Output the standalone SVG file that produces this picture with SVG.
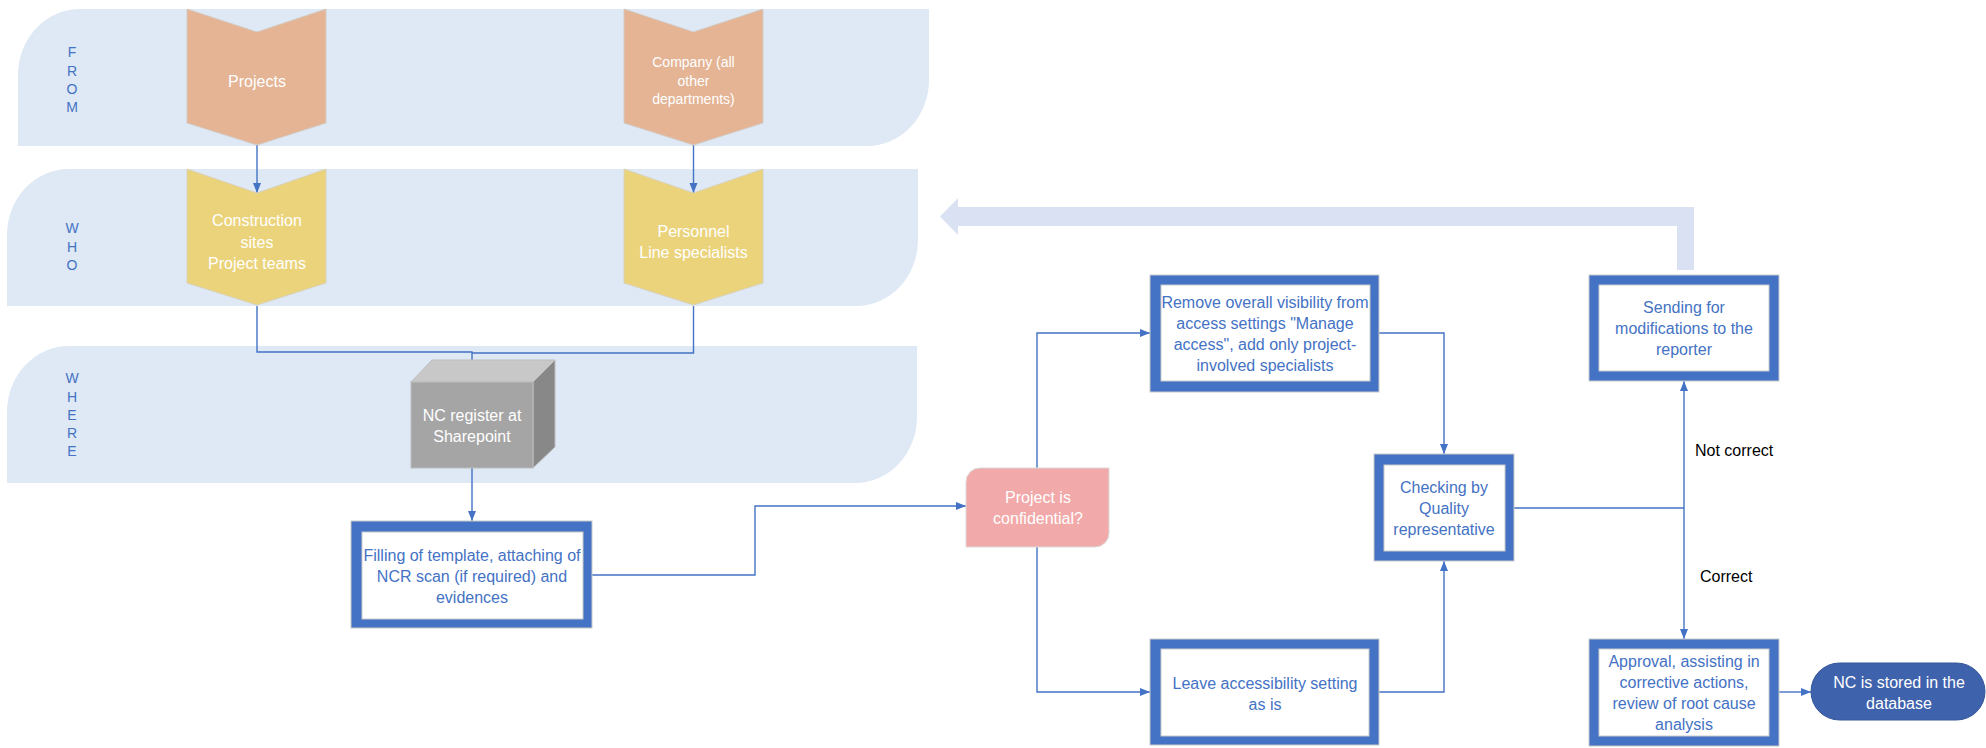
<svg xmlns="http://www.w3.org/2000/svg" width="1986" height="748" viewBox="0 0 1986 748">
<style>
text{font-family:"Liberation Sans",Arial,sans-serif;text-anchor:middle}
.lane{fill:#DEE9F5}
.ll{fill:#4472C4;font-size:14px}
.chev-o{fill:#E4B495;stroke:#D4CBC4;stroke-width:1}
.chev-y{fill:#EBD37B;stroke:#D8D2BC;stroke-width:1}
.wt{fill:#fff;font-size:16px}
.wt14{fill:#fff;font-size:14px}
.bt{fill:#4472C4;font-size:16px}
.box-o{fill:#4472C4;stroke:#C9C9C9;stroke-width:1}
.box-i{fill:#fff;stroke:#C9C9C9;stroke-width:1}
.con{fill:none;stroke:#4472C4;stroke-width:1.4}
.lbl{fill:#000;font-size:16px;text-anchor:start}
</style>
<defs>
<marker id="ah" markerUnits="userSpaceOnUse" markerWidth="10" markerHeight="10" viewBox="0 0 10 10" refX="10" refY="5" orient="auto">
<path d="M0,1 L10,5 L0,9 Z" fill="#4472C4"/>
</marker>
</defs>

<g id="lanes">
<path id="lane-from" class="lane" d="M80 9 H929 V80 A62 66 0 0 1 867 146 H18 V75 A62 66 0 0 1 80 9 Z"/>
<path id="lane-who" class="lane" d="M69 169 H918 V240 A62 66 0 0 1 856 306 H7 V235 A62 66 0 0 1 69 169 Z"/>
<path id="lane-where" class="lane" d="M69 346 H917 V417 A62 66 0 0 1 855 483 H7 V412 A62 66 0 0 1 69 346 Z"/>
<text class="ll" x="72" y="57">F</text>
<text class="ll" x="72" y="76">R</text>
<text class="ll" x="72" y="94">O</text>
<text class="ll" x="72" y="112">M</text>
<text class="ll" x="72" y="233">W</text>
<text class="ll" x="72" y="252">H</text>
<text class="ll" x="72" y="270">O</text>
<text class="ll" x="72" y="383">W</text>
<text class="ll" x="72" y="402">H</text>
<text class="ll" x="72" y="420">E</text>
<text class="ll" x="72" y="438">R</text>
<text class="ll" x="72" y="456">E</text>
</g>

<g id="feedback-arrow">
<path d="M940 216.5 L958 198 V207 H1694 V270 H1677 V226 H958 V235 Z" fill="#DAE1F3"/>
</g>

<g id="connectors">
<path class="con" d="M257 145 V193" marker-end="url(#ah)"/>
<path class="con" d="M693.5 145 V193" marker-end="url(#ah)"/>
<path class="con" d="M257 306 V352 H472 V382" marker-end="url(#ah)"/>
<path class="con" d="M693.5 306 V353 H472"/>
<path class="con" d="M472 468 V521" marker-end="url(#ah)"/>
<path class="con" d="M592 575 H755 V506 H966" marker-end="url(#ah)"/>
<path class="con" d="M1037 468 V333 H1150" marker-end="url(#ah)"/>
<path class="con" d="M1037 547 V692 H1150" marker-end="url(#ah)"/>
<path class="con" d="M1379 333 H1444 V454" marker-end="url(#ah)"/>
<path class="con" d="M1379 692 H1444 V561" marker-end="url(#ah)"/>
<path class="con" d="M1514 508 H1684"/>
<path class="con" d="M1684 508 V381" marker-end="url(#ah)"/>
<path class="con" d="M1684 508 V639" marker-end="url(#ah)"/>
<path class="con" d="M1779 692 H1811" marker-end="url(#ah)"/>
<text class="lbl" x="1695" y="456">Not correct</text>
<text class="lbl" x="1700" y="582">Correct</text>
</g>

<g id="projects">
<polygon class="chev-o" points="187,9 257,32 326,9 326,123 257,145 187,123"/>
<text class="wt" x="257" y="87">Projects</text>
</g>
<g id="company">
<polygon class="chev-o" points="624,9 693.5,32 763,9 763,123 693.5,145 624,123"/>
<text class="wt14" x="693.5" y="67">Company (all</text>
<text class="wt14" x="693.5" y="86">other</text>
<text class="wt14" x="693.5" y="104">departments)</text>
</g>
<g id="construction">
<polygon class="chev-y" points="187,169 257,193 326,169 326,283 257,305 187,283"/>
<text class="wt" x="257" y="225.5">Construction</text>
<text class="wt" x="257" y="247.5">sites</text>
<text class="wt" x="257" y="268.5">Project teams</text>
</g>
<g id="personnel">
<polygon class="chev-y" points="624,169 693.5,193 763,169 763,283 693.5,305 624,283"/>
<text class="wt" x="693.5" y="236.5">Personnel</text>
<text class="wt" x="693.5" y="257.5">Line specialists</text>
</g>

<g id="nc-register">
<polygon points="411,382 432,360 555,360 533,382" fill="#C8C8C8" stroke="#BDBDBD" stroke-width="1"/>
<polygon points="533,382 555,360 555,447 533,468" fill="#888888" stroke="#BDBDBD" stroke-width="1"/>
<rect x="411" y="382" width="122" height="86" fill="#A5A5A5" stroke="#BDBDBD" stroke-width="1"/>
<text class="wt" x="472" y="420.5">NC register at</text>
<text class="wt" x="472" y="441.5">Sharepoint</text>
</g>

<g id="filling">
<rect class="box-o" x="351" y="521" width="241" height="107"/>
<rect class="box-i" x="362" y="532" width="221" height="87"/>
<text class="bt" x="472" y="561">Filling of template, attaching of</text>
<text class="bt" x="472" y="582">NCR scan (if required) and</text>
<text class="bt" x="472" y="603">evidences</text>
</g>

<g id="confidential">
<path d="M980 468 H1109 V533 A14 14 0 0 1 1095 547 H966 V482 A14 14 0 0 1 980 468 Z" fill="#F2A9A9" stroke="#DADADA" stroke-width="1"/>
<text class="wt" x="1038" y="502.5">Project is</text>
<text class="wt" x="1038" y="523.5">confidential?</text>
</g>

<g id="remove">
<rect class="box-o" x="1150" y="275" width="229" height="117"/>
<rect class="box-i" x="1161" y="285" width="209" height="96"/>
<text class="bt" x="1265" y="307.5">Remove overall visibility from</text>
<text class="bt" x="1265" y="328.5">access settings "Manage</text>
<text class="bt" x="1265" y="349.5">access", add only project-</text>
<text class="bt" x="1265" y="370.5">involved specialists</text>
</g>

<g id="leave">
<rect class="box-o" x="1150" y="639" width="229" height="106"/>
<rect class="box-i" x="1161" y="649" width="208" height="87"/>
<text class="bt" x="1265" y="688.5">Leave accessibility setting</text>
<text class="bt" x="1265" y="709.5">as is</text>
</g>

<g id="checking">
<rect class="box-o" x="1374" y="454" width="140" height="107"/>
<rect class="box-i" x="1384" y="465" width="121" height="86"/>
<text class="bt" x="1444" y="492.5">Checking by</text>
<text class="bt" x="1444" y="513.5">Quality</text>
<text class="bt" x="1444" y="534.5">representative</text>
</g>

<g id="sending">
<rect class="box-o" x="1589" y="275" width="190" height="106"/>
<rect class="box-i" x="1599" y="285" width="170" height="86"/>
<text class="bt" x="1684" y="312.5">Sending for</text>
<text class="bt" x="1684" y="333.5">modifications to the</text>
<text class="bt" x="1684" y="354.5">reporter</text>
</g>

<g id="approval">
<rect class="box-o" x="1589" y="639" width="190" height="107"/>
<rect class="box-i" x="1599" y="649" width="170" height="87"/>
<text class="bt" x="1684" y="666.5">Approval, assisting in</text>
<text class="bt" x="1684" y="687.5">corrective actions,</text>
<text class="bt" x="1684" y="708.5">review of root cause</text>
<text class="bt" x="1684" y="729.5">analysis</text>
</g>

<g id="nc-stored">
<rect x="1811" y="663" width="174" height="57" rx="28.5" ry="28.5" fill="#3F62AD" stroke="#35569A" stroke-width="1"/>
<text class="wt" x="1899" y="687.5">NC is stored in the</text>
<text class="wt" x="1899" y="708.5">database</text>
</g>
</svg>
